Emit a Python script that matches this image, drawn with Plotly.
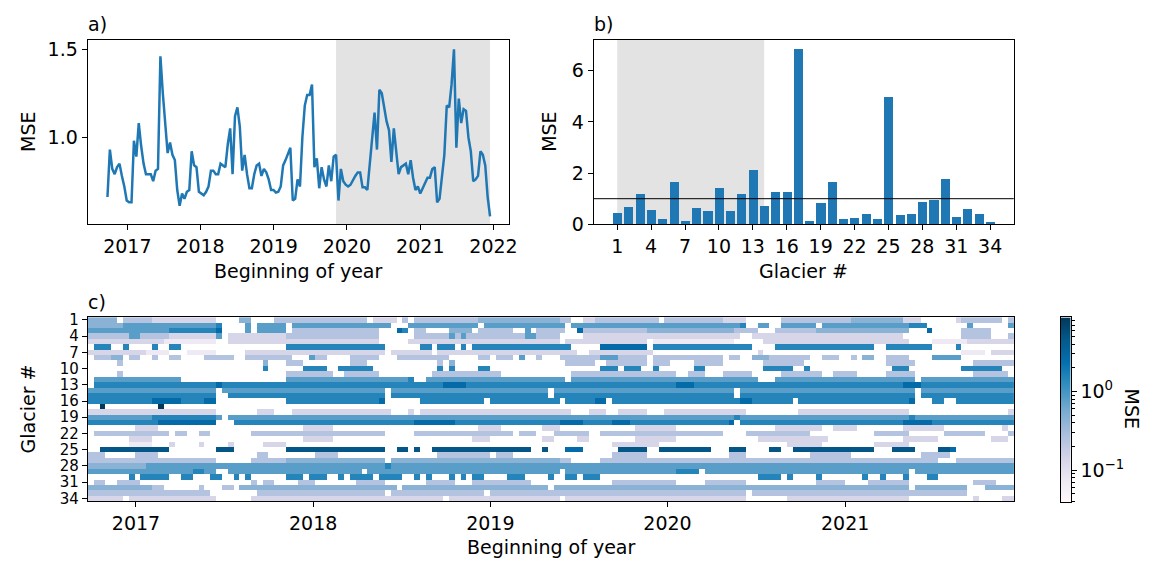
import numpy as np
import pandas as pd
import plotly.graph_objects as go

# ---------------- data ----------------
# 12-day acquisition dates (edges of the heatmap columns, points of the line)
DATES = pd.date_range("2016-09-24", periods=160, freq="12D")

# a) mean MSE per date
MEAN_MSE = [
    0.66, 0.93, 0.82, 0.79, 0.83, 0.85, 0.78, 0.72, 0.64, 0.63,
    0.63, 0.98, 0.89, 1.08, 0.95, 0.85, 0.79, 0.79, 0.79, 0.75,
    0.81, 0.82, 1.46, 1.25, 1.05, 0.91, 0.97, 0.90, 0.87, 0.70,
    0.61, 0.68, 0.65, 0.69, 0.70, 0.92, 0.84, 0.83, 0.69, 0.68,
    0.67, 0.69, 0.72, 0.81, 0.81, 0.79, 0.79, 0.85, 0.84, 0.83,
    0.96, 1.05, 0.79, 1.12, 1.17, 1.06, 0.81, 0.90, 0.79, 0.71,
    0.71, 0.79, 0.84, 0.85, 0.78, 0.82, 0.80, 0.76, 0.70, 0.70,
    0.685, 0.69, 0.72, 0.84, 0.87, 0.90, 0.94, 0.64, 0.65, 0.76,
    0.72, 1.00, 1.18, 1.24, 1.24, 1.30, 0.83, 0.88, 0.71, 0.83,
    0.76, 0.72, 0.84, 0.75, 0.89, 0.90, 0.64, 0.82, 0.75, 0.73,
    0.72, 0.73, 0.76, 0.78, 0.80, 0.80, 0.715, 0.715, 0.70, 0.85,
    1.00, 1.14, 0.93, 1.27, 1.25, 1.16, 1.09, 1.04, 0.86, 1.05,
    0.90, 0.79, 0.83, 0.84, 0.85, 0.79, 0.87, 0.77, 0.70, 0.72,
    0.68, 0.71, 0.74, 0.77, 0.77, 0.82, 0.83, 0.63, 0.65, 0.78,
    0.90, 1.18, 1.17, 1.30, 1.50, 0.94, 1.22, 1.08, 1.16, 1.15,
    1.00, 0.92, 0.75, 0.76, 0.78, 0.92, 0.90, 0.84, 0.66, 0.55,
]
TEST_START_INDEX = 95  # first date of the test period

# b) MSE per glacier
GLACIER_IDS = list(range(1, 35))
GLACIER_MSE = [
    0.44, 0.69, 1.17, 0.57, 0.21, 1.67, 0.14, 0.64, 0.51, 1.43,
    0.51, 1.17, 2.11, 0.72, 1.25, 1.28, 6.85, 0.14, 0.82, 1.65,
    0.21, 0.23, 0.42, 0.19, 4.96, 0.35, 0.39, 0.86, 0.95, 1.79,
    0.30, 0.59, 0.42, 0.11,
]
TEST_GLACIERS = (1, 14)

# c) MSE per glacier and date, stored as runs "first-last:level"
LEVEL_MSE = [0.04, 0.07, 0.13, 0.24, 0.44, 0.80, 1.45, 2.65, 4.80, 8.70]
GLACIER_RUNS = [
    "0-4:4 6-10:3 11-21:2 26-27:4 32-40:3 41-47:3 49-52:2 54:3 56-66:3 67-80:4 81-82:3 85-86:2 87-97:3 99-108:3 109-112:2 119-130:3 131-139:4 140-142:2 149:2 150-156:3 158:3",
    "0-5:4 6-21:5 22:6 27:5 29-33:5 35-51:5 55-66:5 68-81:5 83-111:5 112:6 115-116:5 119-124:5 126-140:5 141-143:6 151:5 158:5",
    "0-13:5 14-21:6 22:7 27:5 29-33:5 35-49:3 53:7 54:6 56-57:3 62-65:4 67-72:3 75:5 77-81:3 84:7 85-95:3 96-110:4 111-114:3 118-124:3 125-140:4 144:7 150-154:3",
    "0-6:3 7-8:5 9-13:3 14-21:2 22:5 24-33:2 34-49:3 56-61:3 62:5 63:3 64:5 65-74:3 75-76:5 77-80:3 85-111:2 114-139:2 150-154:3 158:3",
    "0-12:2 13-21:1 24-33:2 34-49:2 55-80:2 82-95:2 97-110:1 116-140:2 145-150:1 151-158:2",
    "1-3:6 6:6 11:6 14-15:6 34-50:6 57-58:6 60-62:6 64:6 66-82:6 88-95:7 97-113:6 118-129:6 130-134:6 137-139:6 140-144:6 149:6",
    "0-9:2 10-13:1 17-21:1 27-33:2 34-50:2 52-58:2 60-80:2 81-83:2 86-96:2 115:2 150-153:1 155-158:2",
    "1-3:3 4-5:4 7-8:3 11:3 14-15:3 20-24:3 27-34:3 38:5 39-40:3 45-49:3 53:3 54-61:3 67-68:3 70-72:3 74:5 77:3 81-87:3 88-90:5 91-95:3 97-103:3 104-108:3 110-111:3 114-116:4 117-120:3 121-123:3 126-128:3 131:3 133-134:4 137-140:3 145-149:5",
    "5:3 30:4 34-36:3 45-47:3 60:3 62:4 82-86:3 89-95:3 97-99:3 104-108:3 116-122:3 137-141:3 152-158:3",
    "30:6 37-40:6 43-48:6 60:6 62:6 67-68:6 88-90:6 92-94:6 97:6 104-105:6 116-120:6 123:6 138-140:6 150-156:6",
    "5:3 34-41:3 44-49:3 59-70:3 83-100:3 103-105:3 109-113:3 119-125:3 128-131:3 137-141:3 152-157:3",
    "1-15:5 34-51:5 52-54:5 55:6 58-78:5 79-81:5 83-109:5 110-114:5 118-138:5 139-141:5 143-158:5",
    "1-21:6 22:7 23-60:6 61-64:7 65-100:6 101-103:7 104-139:6 140-142:7 143-158:6",
    "0-21:5 23-50:5 52-78:5 80-110:5 112-141:5 143-158:5",
    "0-21:6 24-50:6 52-78:6 80-110:6 112-141:6 143-158:6",
    "0-10:6 11-15:7 16-19:6 20-21:7 34-49:6 50:7 57-67:6 69-80:6 82-86:6 87-88:7 90-111:6 112-113:7 114-120:6 122-140:6 141:7 145-146:6 149-158:6",
    "2:9 12:9",
    "0-21:2 29-31:2 35-51:2 55:2 57-82:2 86-88:2 91-95:2 99-112:2 122-140:2 158:2",
    "0-10:5 11-21:6 22:5 24-58:5 59-80:5 81-110:5 111:6 112-140:5 141:6 142-158:5",
    "0-11:6 12-21:7 25-55:6 56-62:7 63-80:6 81-84:7 85-89:6 90-92:7 93-109:6 110:7 112-139:6 140-144:7 145-158:6",
    "8-11:2 37-41:2 67-70:2 78-80:2 94-100:2 118-125:2 128-131:2 140-146:2 157:2",
    "1-13:3 15-16:3 19-20:3 28-50:3 56-72:3 74-76:3 80-85:3 88-108:3 113-123:3 135-140:3 147-153:3 158:3",
    "7-10:2 37-41:2 66-68:2 78-79:2 84-85:2 94-100:2 115-126:2 140-145:2 155-157:2",
    "7-10:1 14:2 19:2 24:2 30-33:2 90-97:2 120-125:2 135-140:2",
    "2-13:8 22-24:8 34-50:8 53-54:8 56:8 59-75:8 78:8 82-84:7 91-95:8 98-106:8 110-112:8 117-118:8 121-134:8 138-141:8 146-147:8 148:7",
    "0-2:3 8-11:3 29-30:3 39-42:3 60-68:3 70-72:3 90-95:3 110-112:3 124-130:3 143-147:3",
    "0-21:3 28-33:3 34-50:4 52-80:4 81-82:3 88-140:3 141-145:3 149-158:3",
    "0-9:4 10-21:5 22-50:5 51:6 52-158:5",
    "0-17:5 18-19:6 20-21:5 24-46:5 48-80:5 82-100:5 101-104:6 106-140:5 142-158:5",
    "7:6 9-13:6 16-17:6 21-22:6 25:6 27:6 34-36:6 38-40:6 43:6 45-48:6 50-53:6 56:6 58:6 62:6 64:6 66-67:6 72-74:6 79:6 82-83:6 85-87:6 115-118:6 120:6 125:6 133:6 136:6 140:6 144-145:6",
    "1-2:3 5-8:3 28:3 30-31:3 36-38:3 46-50:3 58-62:3 66-75:3 90-100:3 106-112:3 125-129:3 134-140:3 152-155:3",
    "0-10:4 11-12:3 19:3 23-24:3 26-52:4 54-78:4 80-110:4 111-140:4 142-150:4 154-158:4",
    "0-20:3 29-50:3 52-67:3 69-80:3 81-112:3 114-140:3 141-150:3",
    "0-5:2 7-21:2 28-44:2 45-60:2 62-80:2 82-112:2 120-140:2 152:2 157-158:2",
]

YEAR_TICKS = ["2017", "2018", "2019", "2020", "2021", "2022"]
GLACIER_TICKS = list(range(1, 35, 3))
CBAR_MIN, CBAR_MAX = 0.0394, 8.75

# ---------------- helpers ----------------
N_COLS = len(DATES) - 1


def decode(spec):
    row = np.full(N_COLS, np.nan)
    for tok in spec.split():
        rng, lev = tok.split(":")
        if "-" in rng:
            a, b = map(int, rng.split("-"))
        else:
            a = b = int(rng)
        row[a:b + 1] = LEVEL_MSE[int(lev)]
    return row


mse_grid = np.array([decode(s) for s in GLACIER_RUNS])
log_grid = np.log10(mse_grid)
zlo, zhi = np.log10(CBAR_MIN), np.log10(CBAR_MAX)

W, H = 1158, 571


def px_x(x):
    return x / W


def px_y(y):
    return 1 - y / H


BLUE = "#1f77b4"
GREY = "#e3e3e3"
FONT = dict(family="DejaVu Sans", size=19, color="black")
SMALL = dict(family="DejaVu Sans", size=15, color="black")

fig = go.Figure()

# a) line
fig.add_trace(go.Scatter(
    x=DATES, y=MEAN_MSE, mode="lines",
    line=dict(color=BLUE, width=2.5),
    xaxis="x", yaxis="y", hoverinfo="skip", showlegend=False))

# b) bars
fig.add_trace(go.Bar(
    x=GLACIER_IDS, y=GLACIER_MSE, width=0.8, marker=dict(color=BLUE, line=dict(width=0)),
    xaxis="x2", yaxis="y2", hoverinfo="skip", showlegend=False))

# c) heatmap
fig.add_trace(go.Heatmap(
    z=log_grid, x=[d.strftime("%Y-%m-%d") for d in DATES],
    y=np.arange(0.5, 35.5, 1.0),
    colorscale="PuBu", zmin=zlo, zmax=zhi, showscale=False,
    xaxis="x3", yaxis="y3", hoverinfo="skip"))

# colour bar drawn as its own narrow axis
grad = np.linspace(zlo, zhi, 257)
fig.add_trace(go.Heatmap(
    z=[[v] for v in (grad[:-1] + grad[1:]) / 2], x=[0, 1], y=grad,
    colorscale="PuBu", zmin=zlo, zmax=zhi, showscale=False,
    xaxis="x4", yaxis="y4", hoverinfo="skip"))

frame = dict(showline=True, mirror=True, linecolor="black", linewidth=1,
             showgrid=False, zeroline=False, ticks="outside", ticklen=5,
             tickwidth=1, tickcolor="black")

dom_a = [px_x(88.3), px_x(512.7)]
dom_b = [px_x(598.3), px_x(1021.7)]
dom_top = [px_y(225), px_y(35)]
dom_c = [px_x(88.6), px_x(1022)]
dom_bottom = [px_y(510.3), px_y(320.7)]

year_vals = [f"{y}-01-01" for y in YEAR_TICKS]

fig.update_layout(
    width=W, height=H, margin=dict(l=0, r=0, t=0, b=0),
    paper_bgcolor="white", plot_bgcolor="white", font=FONT,
    showlegend=False, bargap=0,
    xaxis=dict(domain=dom_a, anchor="y", type="date",
               range=["2016-06-17", "2022-03-18"],
               tickvals=year_vals, ticktext=YEAR_TICKS, tickfont=FONT, **frame),
    yaxis=dict(domain=dom_top, anchor="x", range=[0.505, 1.553],
               tickvals=[1.0, 1.5], ticktext=["1.0", "1.5"], tickfont=FONT, **frame),
    xaxis2=dict(domain=dom_b, anchor="y2", range=[-1.09, 36.09],
                tickvals=GLACIER_TICKS, tickfont=FONT, **frame),
    yaxis2=dict(domain=dom_top, anchor="x2", range=[0, 7.2],
                tickvals=[0, 2, 4, 6], tickfont=FONT, **frame),
    xaxis3=dict(domain=dom_c, anchor="y3", type="date",
                range=[DATES[0].strftime("%Y-%m-%d"), DATES[-1].strftime("%Y-%m-%d")],
                tickvals=year_vals[:-1], ticktext=YEAR_TICKS[:-1], tickfont=FONT, **frame),
    yaxis3=dict(domain=dom_bottom, anchor="x3", range=[34.5, 0.5],
                tickvals=GLACIER_TICKS, tickfont=SMALL, **frame),
    xaxis4=dict(domain=[px_x(1069), px_x(1079)], anchor="y4", range=[0, 1],
                showline=True, mirror=True, linecolor="black", linewidth=1,
                showticklabels=False, ticks="", showgrid=False, zeroline=False),
    yaxis4=dict(domain=[px_y(511), px_y(321)], anchor="x4", side="right",
                range=[zlo, zhi], tickvals=[-1, 0],
                ticktext=["10<sup>\u22121</sup>", "10<sup>0</sup>"], tickfont=FONT,
                minor=dict(tickmode="array",
                           tickvals=list(np.log10([0.04, 0.05, 0.06, 0.07, 0.08, 0.09,
                                                   0.2, 0.3, 0.4, 0.5, 0.6, 0.7, 0.8, 0.9,
                                                   2, 3, 4, 5, 6, 7, 8])),
                           ticks="outside", ticklen=3, tickcolor="black", tickwidth=1),
                **frame),
)

# shaded test periods
fig.add_shape(type="rect", xref="x", yref="y domain",
              x0=DATES[TEST_START_INDEX], x1=DATES[-1], y0=0, y1=1,
              fillcolor=GREY, line=dict(width=0), layer="below")
fig.add_shape(type="rect", xref="x2", yref="y2 domain",
              x0=TEST_GLACIERS[0], x1=TEST_GLACIERS[1], y0=0, y1=1,
              fillcolor=GREY, line=dict(width=0), layer="below")
# reference line at MSE = 1
fig.add_shape(type="line", xref="x2 domain", yref="y2", x0=0, x1=1, y0=1, y1=1,
              line=dict(color="black", width=1))


def label(text, x, y, angle=0, xanchor="center", yanchor="middle"):
    fig.add_annotation(text=text, x=px_x(x), y=px_y(y), xref="paper", yref="paper",
                       showarrow=False, textangle=angle, font=FONT,
                       xanchor=xanchor, yanchor=yanchor)


label("a)", 87, 19, xanchor="left")
label("b)", 597, 19, xanchor="left")
label("c)", 87, 305, xanchor="left")
label("MSE", 28, 130, angle=-90)
label("MSE", 553, 130, angle=-90)
label("Beginning of year", 300, 273)
label("Glacier #", 810, 273)
label("Glacier #", 28, 415, angle=-90)
label("Beginning of year", 555, 558)
label("MSE", 1141, 415, angle=90)

fig.write_html("out.html")
